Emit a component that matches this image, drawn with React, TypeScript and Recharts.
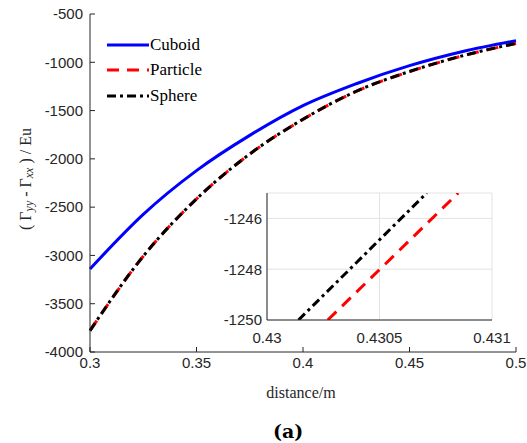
import React from 'react'
import { CartesianGrid, Label, Legend, Line, LineChart, XAxis, YAxis } from 'recharts'

// main plot
const distance = [0.3, 0.325, 0.35, 0.375, 0.4, 0.425, 0.45, 0.475, 0.5]
const cuboid = [-3140, -2575, -2122, -1757, -1449, -1222, -1035, -888, -776]
const particle = [-3779, -3009, -2416, -1951, -1591, -1301, -1096, -933, -805]
const sphere = [-3778, -3008, -2415, -1950, -1590, -1300, -1095, -932, -804]

const xTicks = [0.3, 0.35, 0.4, 0.45, 0.5]
const yTicks = [-4000, -3500, -3000, -2500, -2000, -1500, -1000, -500]

// zoomed inset around -1250
const insetSphereX = [0.43014, 0.43071]
const insetSphereY = [-1250, -1245]
const insetParticleX = [0.43027, 0.43085]
const insetParticleY = [-1250, -1245]
const insetXTicks = [0.43, 0.4305, 0.431]
const insetYTicks = [-1250, -1248, -1246]

const series = [
    { key: 'cuboid', name: 'Cuboid', color: '#0000ff', dash: undefined },
    { key: 'particle', name: 'Particle', color: '#ff0000', dash: '12 8' },
    { key: 'sphere', name: 'Sphere', color: '#000000', dash: '9 4 3 4' },
]

const data = distance.map((d, i) => ({ d, cuboid: cuboid[i], particle: particle[i], sphere: sphere[i] }))
const insetSphere = insetSphereX.map((x, i) => ({ x, y: insetSphereY[i] }))
const insetParticle = insetParticleX.map((x, i) => ({ x, y: insetParticleY[i] }))

const axisColor = '#262626'
const sans = "'Liberation Sans', Arial, sans-serif"
const serif = "'Liberation Serif', 'Times New Roman', serif"
const tickFont = { fontFamily: sans, fontSize: 15, fill: axisColor }

const renderLegend = () => (
    <div style={{ fontFamily: serif, fontSize: 17, color: '#000' }}>
        {series.map(s => (
            <div key={s.key} style={{ display: 'flex', alignItems: 'center', height: 25.5 }}>
                <svg width={42} height={6}>
                    <line x1={0} y1={3} x2={42} y2={3} stroke={s.color} strokeWidth={3} strokeDasharray={s.dash} />
                </svg>
                <span style={{ marginLeft: 1 }}>{s.name}</span>
            </div>
        ))}
    </div>
)

const YTitle = () => {
    const cx = 25, cy = 179
    return (
        <text x={cx} y={cy} transform={`rotate(-90 ${cx} ${cy})`} textAnchor="middle" dominantBaseline="central"
            fontFamily={serif} fontSize={16} fill={axisColor}>
            ( Γ<tspan fontStyle="italic" fontSize={12} dy={4}>yy</tspan>
            <tspan dy={-4}> - Γ</tspan><tspan fontStyle="italic" fontSize={12} dy={4}>xx</tspan>
            <tspan dy={-4}> ) / Eu</tspan>
        </text>
    )
}

const XTitle = () => (
    <text x={301} y={398} textAnchor="middle" fontFamily={serif} fontSize={16} fill={axisColor}>
        distance/m
    </text>
)

const App: React.FC = () => {
    return (
        <div style={{ position: 'absolute', left: 0, top: 0, width: 527, height: 443, background: '#fff' }}>
            <div style={{ position: 'absolute', left: 0, top: 0 }}>
                <LineChart width={527} height={443} data={data}
                    margin={{ top: 14, right: 11, bottom: 61, left: 0 }}>
                    <XAxis dataKey="d" type="number" domain={[0.3, 0.5]} ticks={xTicks} height={30}
                        stroke={axisColor} tickSize={-5} tickMargin={10} tick={tickFont}>
                        <Label content={XTitle} />
                    </XAxis>
                    <XAxis xAxisId="top" orientation="top" dataKey="d" type="number" domain={[0.3, 0.5]}
                        ticks={xTicks} height={0} stroke={axisColor} tickSize={-5} tick={false} />
                    <YAxis type="number" domain={[-4000, -500]} ticks={yTicks} width={90}
                        stroke={axisColor} tickSize={-5} tickMargin={12} tick={tickFont}>
                        <Label content={YTitle} />
                    </YAxis>
                    <YAxis yAxisId="right" orientation="right" type="number" domain={[-4000, -500]}
                        ticks={yTicks} width={0} stroke={axisColor} tickSize={-5} tick={false} />
                    <Legend layout="vertical" verticalAlign="middle" align="center" content={renderLegend}
                        wrapperStyle={{ left: 107, top: 32, width: 'auto' }} />
                    {series.map(s => (
                        <Line key={s.key} type="monotone" dataKey={s.key} name={s.name} stroke={s.color}
                            strokeWidth={3} strokeDasharray={s.dash} dot={false} isAnimationActive={false} />
                    ))}
                </LineChart>
            </div>
            <div style={{ position: 'absolute', left: 200, top: 180 }}>
                <LineChart width={322} height={170} margin={{ top: 13, right: 30, bottom: 0, left: 0 }}>
                    <CartesianGrid stroke="#e3e3e3" fill="#fff" fillOpacity={1} />
                    <XAxis dataKey="x" type="number" domain={[0.43, 0.431]} ticks={insetXTicks} height={30}
                        stroke={axisColor} tickLine={false} tickSize={0} tickMargin={12} tick={tickFont}
                        allowDataOverflow interval={0} />
                    <XAxis xAxisId="top" orientation="top" type="number" domain={[0.43, 0.431]} height={0}
                        stroke={axisColor} tickLine={false} tick={false} />
                    <YAxis type="number" domain={[-1250, -1245]} ticks={insetYTicks} width={67}
                        stroke={axisColor} tickLine={false} tickSize={0} tickMargin={5} tick={tickFont}
                        allowDataOverflow />
                    <YAxis yAxisId="right" orientation="right" type="number" domain={[-1250, -1245]} width={0}
                        stroke={axisColor} tickLine={false} tick={false} />
                    <Line data={insetParticle} dataKey="y" type="linear" stroke="#ff0000" strokeWidth={3}
                        strokeDasharray="12 8" dot={false} isAnimationActive={false} />
                    <Line data={insetSphere} dataKey="y" type="linear" stroke="#000000" strokeWidth={3}
                        strokeDasharray="9 4 3 4" dot={false} isAnimationActive={false} />
                </LineChart>
            </div>
            <div style={{ position: 'absolute', left: 273, top: 420, fontFamily: "'DejaVu Serif', serif", fontWeight: 'bold',
                fontSize: 19, lineHeight: '22px', color: '#000' }}>
                (a)
            </div>
        </div>
    )
}

export default App
